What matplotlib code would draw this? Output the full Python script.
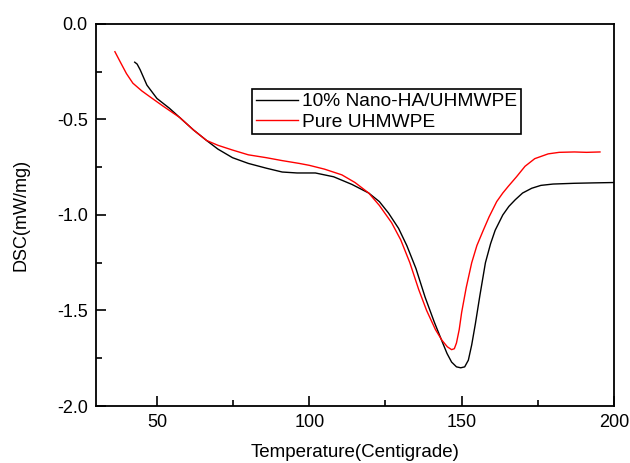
import numpy as np
import matplotlib.pyplot as plt

plt.rcParams['font.family'] = ['Liberation Sans', 'DejaVu Sans']

# 10% Nano-HA/UHMWPE (black)
t_ha = [42.7, 43.5, 44.5, 46.7, 50.0, 54.0, 57.5, 62.0, 66.3, 70.0, 74.8, 80.0, 85.9, 91.1,
        96.0, 102.0, 108.0, 114.0, 119.5, 123.0, 126.0, 129.3, 132.0, 135.0, 138.0, 141.0,
        143.4, 145.2, 146.7, 148.3, 149.7, 151.0, 152.2, 153.3, 154.5, 156.0, 157.8, 159.5,
        161.0, 163.5, 165.5, 167.6, 170.0, 173.0, 176.0, 180.0, 187.0, 193.0, 200.0]
dsc_ha = [-0.20, -0.21, -0.24, -0.32, -0.39, -0.44, -0.49, -0.555, -0.61, -0.655, -0.70, -0.73,
          -0.755, -0.775, -0.78, -0.78, -0.80, -0.84, -0.885, -0.93, -0.99, -1.07, -1.16,
          -1.28, -1.43, -1.56, -1.655, -1.725, -1.77, -1.795, -1.80, -1.795, -1.76, -1.68,
          -1.57, -1.42, -1.25, -1.15, -1.08, -1.0, -0.955, -0.92, -0.885, -0.86, -0.845,
          -0.838, -0.834, -0.832, -0.83]

# Pure UHMWPE (red)
t_pe = [36.2, 38.0, 40.0, 42.1, 45.0, 47.6, 52.0, 57.5, 62.0, 66.3, 70.0, 74.8, 80.0, 85.9,
        91.0, 96.7, 100.0, 105.0, 110.7, 115.0, 119.5, 123.0, 127.0, 130.0, 133.0, 135.9,
        138.5, 141.4, 143.5, 145.3, 146.7, 147.6, 148.3, 149.2, 150.0, 151.5, 153.3, 155.0,
        157.1, 159.0, 161.5, 163.5, 165.3, 168.0, 170.8, 174.0, 178.4, 182.0, 187.0, 191.0,
        195.4]
dsc_pe = [-0.145, -0.20, -0.26, -0.31, -0.35, -0.38, -0.43, -0.49, -0.555, -0.61, -0.635,
          -0.66, -0.685, -0.70, -0.715, -0.73, -0.74, -0.76, -0.79, -0.83, -0.885, -0.95,
          -1.04, -1.13, -1.25, -1.39, -1.50, -1.60, -1.655, -1.69, -1.705, -1.70, -1.67,
          -1.60, -1.51, -1.38, -1.25, -1.16, -1.08, -1.01, -0.93, -0.885, -0.85, -0.80,
          -0.745, -0.705, -0.68, -0.672, -0.67, -0.672, -0.67]

fig = plt.figure(figsize=(6.3, 4.63), dpi=100)
ax = fig.add_axes([0.1524, 0.1231, 0.8222, 0.8251])
ax.plot(t_ha, dsc_ha, color='black', lw=1.0, label='10% Nano-HA/UHMWPE')
ax.plot(t_pe, dsc_pe, color='red', lw=1.0, label='Pure UHMWPE')

ax.set_xlim(30, 200)
ax.set_ylim(-2.0, 0.0)
ax.set_xticks([50, 100, 150, 200])
ax.set_xticks([75, 125, 175], minor=True)
ax.set_yticks([-2.0, -1.5, -1.0, -0.5, 0.0])
ax.set_yticks([-1.75, -1.25, -0.75, -0.25], minor=True)
ax.set_yticklabels(['-2.0', '-1.5', '-1.0', '-0.5', '0.0'])
ax.tick_params(which='both', direction='in', width=1.2, labelsize=13, pad=6)
ax.tick_params(which='major', length=7)
ax.tick_params(which='minor', length=4)
for s in ax.spines.values():
    s.set_linewidth(1.3)

ax.set_xlabel('Temperature(Centigrade)', fontsize=13.5, labelpad=9)
ax.set_ylabel('DSC(mW/mg)', fontsize=13, labelpad=20)

leg = ax.legend(loc='upper left', bbox_to_anchor=(252 / 630, 1 - 89 / 463),
                bbox_transform=fig.transFigure, fontsize=13.8, frameon=True,
                fancybox=False, edgecolor='black', framealpha=1,
                borderpad=0.2, labelspacing=0.15, handlelength=2.2,
                handletextpad=0.2, borderaxespad=0)
leg.get_frame().set_linewidth(1.2)

fig.savefig('out.png', dpi=100)
